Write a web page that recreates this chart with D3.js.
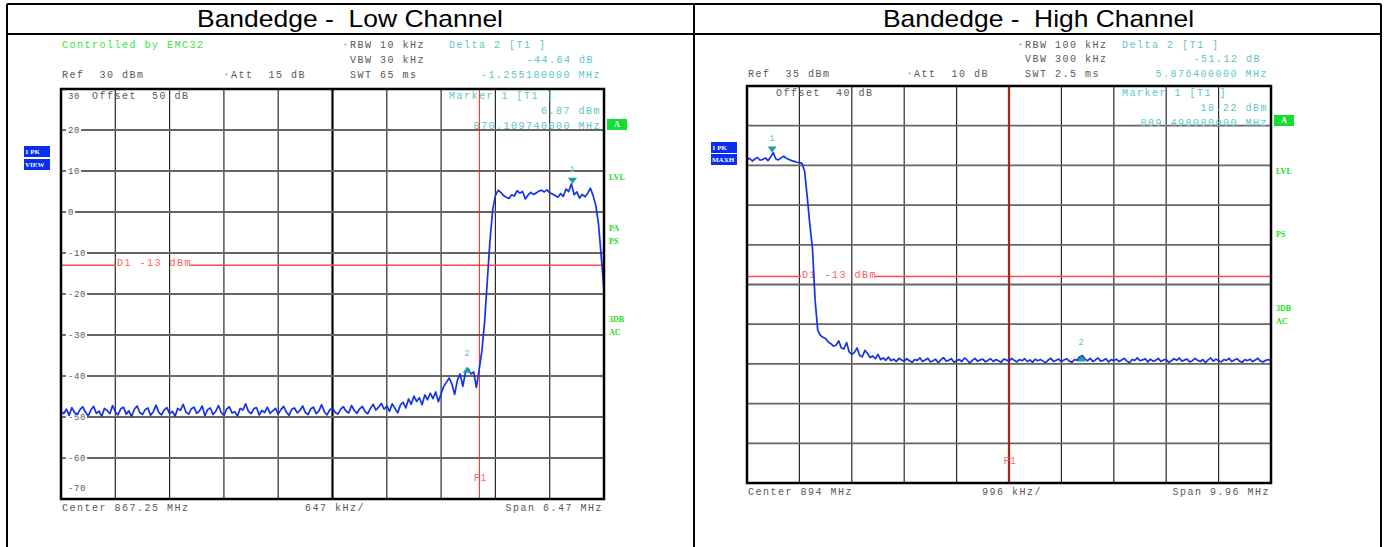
<!DOCTYPE html>
<html>
<head>
<meta charset="utf-8">
<script src="https://cdn.jsdelivr.net/npm/d3@7"></script>
<style>
  body { margin: 0; background: #fff; }
  svg { display: block; }
  text { white-space: pre; }
  .mono { font-family: "Liberation Mono", "Courier New", monospace; font-size: 10px; letter-spacing: 1.5px; }
  .tick { font-family: "Liberation Mono", monospace; font-size: 9px; letter-spacing: 0.6px; fill: #5a5a5a; }
  .soft { font-family: "Liberation Serif", serif; font-size: 8px; font-weight: bold; fill: #22dd22; }
</style>
</head>
<body>
<div id="chart"></div>
<script>
// ---- data ----
const titles = ["Bandedge -  Low Channel", "Bandedge -  High Channel"];

// Low channel sweep: 867.25 MHz centre, 6.47 MHz span, 201 sweep points (dBm)
const lowTrace = [
  -48.6, -49.2, -48.1, -49.6, -47.7, -48.9, -49.4, -48.2, -47.5, -48.8,
  -49.7, -48.3, -47.4, -49.1, -48.6, -49.8, -47.9, -48.4, -49.2, -47.2,
  -48.7, -49.5, -48.0, -47.6, -49.3, -48.5, -49.9, -48.1, -47.3, -48.9,
  -49.4, -48.2, -47.8, -49.6, -48.7, -47.1, -48.9, -49.5, -48.3, -47.7,
  -49.2, -48.6, -49.8, -47.9, -48.4, -46.9, -48.8, -49.3, -48.0, -47.6,
  -49.1, -48.5, -47.3, -49.7, -48.2, -47.8, -49.4, -48.6, -47.2, -48.9,
  -49.6, -48.1, -47.5, -49.0, -48.7, -49.8, -47.9, -48.3, -46.8, -48.6,
  -49.2, -48.0, -47.7, -49.5, -48.4, -48.9, -47.6, -49.1, -48.5, -47.9,
  -49.3, -48.2, -47.4, -48.8, -49.6, -48.1, -47.8, -49.0, -48.4, -47.3,
  -48.9, -49.4, -48.0, -47.6, -49.2, -48.5, -47.0, -48.7, -49.5, -48.2,
  -47.8, -48.9, -49.3, -48.1, -47.5, -48.6, -49.0, -47.2, -48.4, -49.1,
  -48.0, -47.4, -48.7, -49.2, -47.9, -46.9, -48.3, -47.6, -46.7, -48.1,
  -47.3, -48.6, -46.8, -47.9, -49.0, -47.1, -46.4, -47.8, -45.6, -46.9,
  -44.9, -46.2, -45.3, -47.0, -44.6, -45.8, -44.2, -45.5, -43.9, -46.3,
  -44.3, -42.5, -41.5, -40.5, -42.0, -44.5, -41.0, -39.5, -42.5, -39.0,
  -38.2, -39.5, -39.0, -42.8, -38.5, -34.0, -27.0, -17.0, -7.0, 0.5,
  4.0, 5.3, 4.8, 4.0, 3.6, 3.3, 4.2, 3.9, 5.2, 4.6,
  5.0, 3.2, 4.1, 4.8, 4.3, 4.6, 5.1, 5.3, 4.9, 5.4,
  4.7, 4.4, 4.0, 3.6, 4.5, 3.8, 5.6, 5.0, 6.87, 4.2,
  4.9, 3.4, 4.3, 3.7, 4.6, 5.8, 4.0, 1.5, -3.0, -11.0,
  -19.0
];

// High channel sweep: 894 MHz centre, 9.96 MHz span, 201 sweep points (dBm)
const highTrace = [
  16.4, 16.8, 16.1, 16.6, 17.0, 16.3, 16.5, 16.9, 16.2, 17.1,
  18.2, 16.6, 16.4, 16.9, 17.3, 16.8, 16.5, 16.2, 16.0, 15.8,
  15.7, 15.5, 13.5, 7.0, 0.0, -6.0, -19.0, -26.5, -27.8, -28.3,
  -28.6, -29.5, -29.9, -30.5, -30.3, -29.2, -31.0, -31.2, -29.6, -32.0,
  -32.6, -32.1, -31.0, -32.9, -33.2, -31.6, -32.4, -33.4, -33.0, -33.7,
  -32.6, -33.9, -33.5, -34.1, -33.3, -34.2, -33.8, -34.4, -33.6, -34.0,
  -34.3, -33.7, -34.2, -34.6, -33.9, -34.1, -33.5, -34.4, -34.0, -33.6,
  -34.5, -34.2, -33.8, -34.7, -34.0, -33.4, -34.3, -34.1, -33.7, -34.6,
  -34.2, -33.9, -34.4, -33.5, -34.0, -34.8, -34.1, -33.6, -34.3, -34.0,
  -33.8, -34.5, -34.1, -33.7, -34.4, -33.9, -34.2, -34.6, -33.8, -34.0,
  -34.3, -33.6, -34.1, -34.5, -33.9, -34.2, -33.7, -34.4, -34.0, -34.6,
  -33.8, -34.2, -33.9, -34.3, -34.7, -34.0, -33.6, -34.4, -34.1, -33.8,
  -34.5, -34.0, -33.7, -34.3, -34.6, -33.9, -34.1, -33.2, -32.9, -33.8,
  -34.2, -33.6, -34.4, -34.0, -33.5, -34.3, -34.1, -33.7, -34.5, -33.9,
  -34.2, -33.8, -34.4, -34.0, -33.6, -34.3, -34.7, -33.9, -34.1, -33.5,
  -34.2, -34.0, -33.7, -34.5, -33.8, -34.3, -34.1, -33.6, -34.4, -34.0,
  -33.9, -34.6, -34.2, -33.7, -34.1, -33.5, -34.3, -34.0, -33.8, -34.5,
  -34.2, -33.6, -34.1, -34.4, -33.9, -34.7, -34.0, -33.5, -34.3, -33.8,
  -34.2, -34.5, -33.9, -34.1, -33.6, -34.4, -34.0, -33.7, -34.3, -34.6,
  -33.9, -34.2, -33.8, -34.4, -34.0, -33.6, -34.3, -34.5, -34.1, -33.9,
  -34.3
];

// analyser settings
const lowSetup  = { center: 867.25, span: 6.47, ref: 30, offset: 50, att: 15, rbw: "10 kHz",  vbw: "30 kHz",  swt: "65 ms" };
const highSetup = { center: 894,    span: 9.96, ref: 35, offset: 40, att: 10, rbw: "100 kHz", vbw: "300 kHz", swt: "2.5 ms" };

// markers [freq MHz, level dBm]
const lowMarker1  = [870.10974, 6.87];
const lowMarker2  = [868.85456, -37.77];
const highMarker1 = [889.49808, 18.22];
const highMarker2 = [895.37448, -32.90];
const lowDelta  = ["-44.64 dB", "-1.255180000 MHz"];
const highDelta = ["-51.12 dB", "5.876400000 MHz"];

const limitLine = -13;          // D1
const lowF1 = 869.0;
const highF1 = 894.0;

const lowTickLabels  = ["30", "20", "10", "0", "-10", "-20", "-30", "-40", "-50", "-60", "-70"];
const highTickLabels = ["30", "20", "10", "0", "-10", "-20", "-30", "-40", "-50", "-60"];

const lowSoftkeys  = [["LVL", 177], ["PA", 228], ["PS", 241], ["3DB", 319], ["AC", 332]];
const highSoftkeys = [["LVL", 171], ["PS", 234], ["3DB", 308], ["AC", 321]];

// ---- drawing ----
const W = 1385, H = 547;
const svg = d3.select("#chart").append("svg")
    .attr("width", W).attr("height", H);
svg.append("rect").attr("width", W).attr("height", H).attr("fill", "#fff");

const gray = "#585858", cyan = "#5cc6c6", green = "#33e633", red = "#ff4a4a", blue = "#1533e6";

// table frame
const frame = svg.append("g").attr("stroke", "#000").attr("stroke-width", 2);
frame.append("line").attr("x1", 7).attr("x2", 1381).attr("y1", 4).attr("y2", 4);
frame.append("line").attr("x1", 7).attr("x2", 1381).attr("y1", 34).attr("y2", 34);
[7, 694, 1381].forEach(x => frame.append("line").attr("x1", x).attr("x2", x).attr("y1", 4).attr("y2", H));

// titles
[[titles[0], 197, 306], [titles[1], 883, 311]].forEach(([t, x, len]) => {
    svg.append("text").attr("x", x).attr("y", 27)
        .attr("font-family", "Liberation Sans, Arial, sans-serif")
        .attr("font-size", 24).attr("textLength", len).attr("lengthAdjust", "spacingAndGlyphs")
        .text(t);
});

function txt(g, x, y, s, color, anchor) {
    return g.append("text").attr("class", "mono").attr("x", x).attr("y", y)
        .attr("fill", color).attr("text-anchor", anchor || "start").text(s);
}

function drawPanel(p) {
    const g = svg.append("g");
    const s = p.setup;
    const x = d3.scaleLinear().domain([s.center - s.span / 2, s.center + s.span / 2]).range([p.x0, p.x1]);
    const y = d3.scaleLinear().domain([s.ref - 100, s.ref]).range([p.y1, p.y0]);

    // header block
    if (p.emc) txt(g, p.x0 + 1, 48, "Controlled by EMC32", green);
    txt(g, p.x0 + 1, p.row3, "Ref  " + s.ref + " dBm", gray);
    txt(g, p.attX, p.row3, "*", green).style("font-size", "8px");
    txt(g, p.attX + 7, p.row3, "Att  " + s.att + " dB", gray);
    txt(g, p.rbwX - 7, p.row1, "*", green).style("font-size", "8px");
    txt(g, p.rbwX, p.row1, "RBW " + s.rbw, gray);
    txt(g, p.rbwX, p.row2, "VBW " + s.vbw, gray);
    txt(g, p.rbwX, p.row3, "SWT " + s.swt, gray);
    txt(g, p.deltaX, p.row1, "Delta 2 [T1 ]", cyan);
    txt(g, p.x1 - 10, p.row2, p.delta[0], cyan, "end");
    txt(g, p.x1 - 3, p.row3, p.delta[1], cyan, "end");

    // grid
    const fTicks = d3.range(11).map(k => s.center - s.span / 2 + k * s.span / 10);
    const lTicks = d3.range(11).map(k => s.ref - k * 10);
    g.append("g").selectAll("line").data(fTicks.slice(1, 10)).join("line")
        .attr("x1", d => x(d)).attr("x2", d => x(d)).attr("y1", p.y0).attr("y2", p.y1)
        .attr("stroke", (d, i) => i === 4 ? "#000" : "#2a2a2a")
        .attr("stroke-width", (d, i) => i === 4 ? 2.2 : 1.2);

    // level labels + horizontal lines
    const labelled = p.tickLabels.map(t => +t);
    lTicks.slice(1, 10).forEach(v => {
        const lab = labelled.includes(v) ? String(v) : null;
        let start = p.x0;
        if (lab !== null) {
            const t = g.append("text").attr("class", "tick").attr("x", p.x0 + 7).attr("y", y(v) + 3).text(lab);
            start = p.x0 + 7 + t.node().getComputedTextLength() + 1;
            g.append("line").attr("x1", p.x0).attr("x2", p.x0 + 5).attr("y1", y(v)).attr("y2", y(v))
                .attr("stroke", "#666").attr("stroke-width", 1.8);
        }
        g.append("line").attr("x1", start).attr("x2", p.x1).attr("y1", y(v)).attr("y2", y(v))
            .attr("stroke", "#666").attr("stroke-width", 1.8);
    });
    if (p.tickLabels.includes(String(s.ref)))
        g.append("text").attr("class", "tick").attr("x", p.x0 + 7).attr("y", p.y0 + 10).text(String(s.ref));
    if (p.tickLabels.includes(String(s.ref - 100)))
        g.append("text").attr("class", "tick").attr("x", p.x0 + 7).attr("y", p.y1 - 8).text(String(s.ref - 100));

    txt(g, p.offX, p.y0 + 10, "Offset  " + s.offset + " dB", gray);

    // marker readout inside the screen
    txt(g, p.deltaX, p.y0 + 10, "Marker 1 [T1 ]", cyan);
    txt(g, p.x1 - 3, p.y0 + 25, p.m1[1].toFixed(2) + " dBm", cyan, "end");
    txt(g, p.x1 - 3, p.y0 + 40, p.m1[0].toFixed(9) + " MHz", cyan, "end");

    // D1 limit line with label gap
    const dl = txt(g, p.d1X, y(limitLine) + 1, "D1 -13 dBm", "#ff5a5a");
    const dEnd = p.d1X + dl.node().getComputedTextLength();
    g.append("line").attr("x1", p.x0).attr("x2", p.d1X - 1).attr("y1", y(limitLine)).attr("y2", y(limitLine))
        .attr("stroke", red).attr("stroke-width", 1.4);
    g.append("line").attr("x1", dEnd - 2).attr("x2", p.x1).attr("y1", y(limitLine)).attr("y2", y(limitLine))
        .attr("stroke", red).attr("stroke-width", 1.4);

    // F1 line
    g.append("line").attr("x1", x(p.f1)).attr("x2", x(p.f1)).attr("y1", p.y0).attr("y2", p.y1)
        .attr("stroke", p.f1Color).attr("stroke-width", p.f1Width);
    txt(g, x(p.f1) + 1, p.f1LabelY, "F1", "#ff6a6a", "middle").style("letter-spacing", "0.5px");

    // trace
    const n = p.trace.length;
    const fAt = i => s.center - s.span / 2 + i * s.span / (n - 1);
    const line = d3.line().x((d, i) => x(fAt(i))).y(d => y(d));
    g.append("path").datum(p.trace).attr("d", line)
        .attr("fill", "none").attr("stroke", blue).attr("stroke-width", 1.7).attr("stroke-linejoin", "round");

    // markers
    const mx1 = x(p.m1[0]), my1 = y(p.m1[1]);
    g.append("path").attr("d", `M${mx1 - 4.5},${my1 - 6}L${mx1 + 4.5},${my1 - 6}L${mx1},${my1}Z`).attr("fill", "#1a9e9e");
    g.append("text").attr("class", "tick").attr("x", mx1).attr("y", my1 - 12).attr("text-anchor", "middle")
        .style("fill", cyan).text("1");
    const mx2 = x(p.m2[0]), my2 = y(p.m2[1]);
    g.append("path").attr("d", `M${mx2 - 4.5},${my2 + 6}L${mx2 + 4.5},${my2 + 6}L${mx2},${my2}Z`).attr("fill", "#1a9e9e");
    g.append("text").attr("class", "tick").attr("x", mx2).attr("y", my2 - 11).attr("text-anchor", "middle")
        .style("fill", cyan).text("2");

    // screen border
    g.append("rect").attr("x", p.x0).attr("y", p.y0).attr("width", p.x1 - p.x0).attr("height", p.y1 - p.y0)
        .attr("fill", "none").attr("stroke", "#000").attr("stroke-width", 2.5);

    // footer
    txt(g, p.x0 + 1, p.y1 + 12, "Center " + s.center + " MHz", gray);
    txt(g, p.divX, p.y1 + 12, p.div, gray);
    txt(g, p.x1 - 1, p.y1 + 12, "Span " + s.span + " MHz", gray, "end");

    // side soft keys
    g.append("rect").attr("x", p.x1 + 3).attr("y", p.aY).attr("width", 20).attr("height", 11).attr("fill", "#11dd33");
    g.append("text").attr("x", p.x1 + 13).attr("y", p.aY + 8).attr("text-anchor", "middle")
        .attr("font-family", "Liberation Serif, serif").attr("font-size", 8).attr("font-weight", "bold")
        .attr("fill", "#fff").text("A");
    p.soft.forEach(([k, yy]) => g.append("text").attr("class", "soft").attr("x", p.x1 + 5).attr("y", yy + 3).text(k));

    // trace info boxes on the left
    p.boxes.forEach(([k, yy]) => {
        g.append("rect").attr("x", p.boxX).attr("y", yy).attr("width", 26).attr("height", 11).attr("fill", "#0a2ef0");
        g.append("text").attr("x", p.boxX + 1).attr("y", yy + 8)
            .attr("font-family", "Liberation Serif, serif").attr("font-size", 7).attr("font-weight", "bold")
            .attr("fill", "#fff").text(k);
    });
}

drawPanel({
    setup: lowSetup, trace: lowTrace, m1: lowMarker1, m2: lowMarker2, delta: lowDelta,
    x0: 61, x1: 604, y0: 89, y1: 499,
    row1: 48, row2: 62.5, row3: 77.5, emc: true,
    attX: 224, rbwX: 350, deltaX: 449, offX: 92, d1X: 117, divX: 305, div: "647 kHz/",
    f1: lowF1, f1Color: "#ee2020", f1Width: 1, f1LabelY: 480.5,
    tickLabels: lowTickLabels, soft: lowSoftkeys, aY: 119,
    boxX: 24, boxes: [["1 PK", 146], ["VIEW", 159]]
});

drawPanel({
    setup: highSetup, trace: highTrace, m1: highMarker1, m2: highMarker2, delta: highDelta,
    x0: 747, x1: 1271, y0: 86, y1: 483,
    row1: 47.5, row2: 62, row3: 76.5, emc: false,
    attX: 907, rbwX: 1025, deltaX: 1122, offX: 776, d1X: 802, divX: 982, div: "996 kHz/",
    f1: highF1, f1Color: "#a8261c", f1Width: 2, f1LabelY: 463.5,
    tickLabels: highTickLabels, soft: highSoftkeys, aY: 115,
    boxX: 711, boxes: [["1 PK", 142], ["MAXH", 154]]
});
</script>
</body>
</html>
